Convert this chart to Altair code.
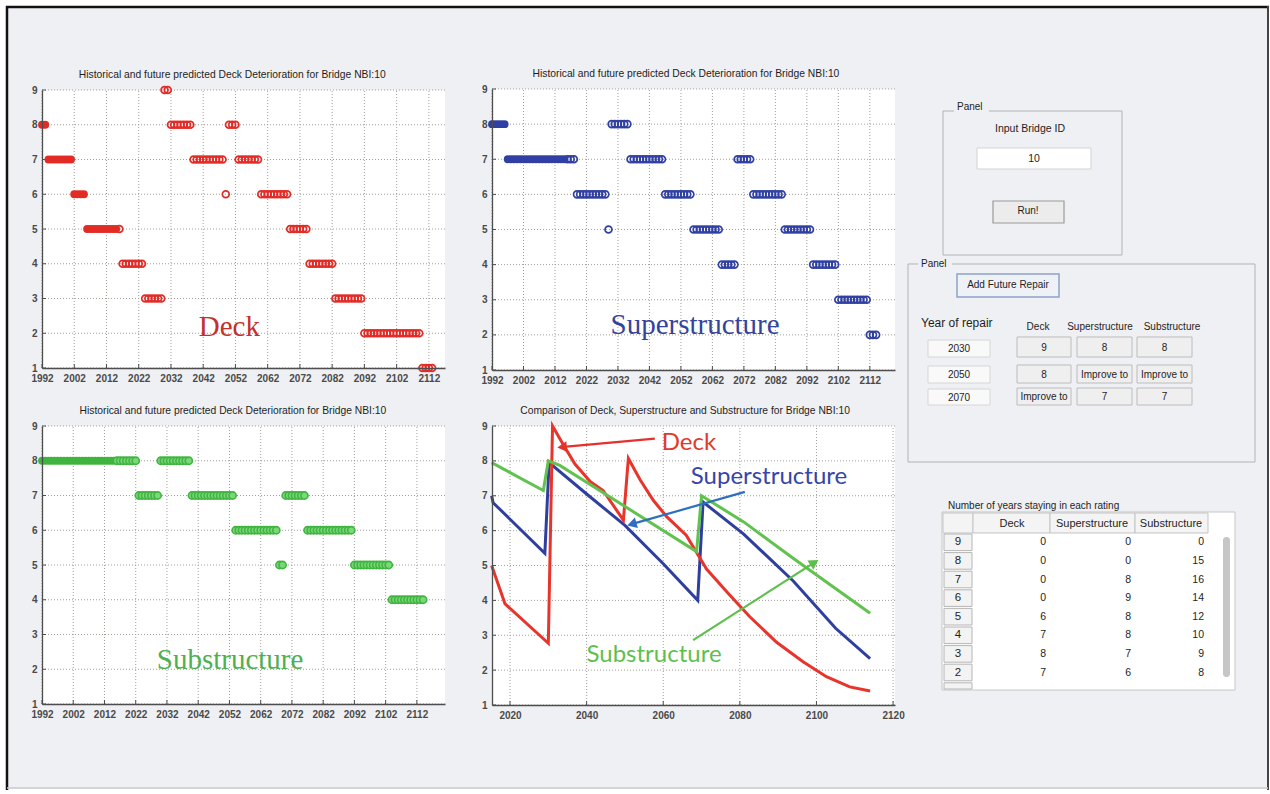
import math
import altair as alt
import pandas as pd

W, H = 1270, 794
FONT = "Liberation Sans"
SERIF = "Liberation Serif"
ANNO_FONT = "Lato"

# ------------------------------------------------------------------ data
YEAR_TICKS = [1992, 2002, 2012, 2022, 2032, 2042, 2052, 2062, 2072, 2082, 2092, 2102, 2112]
CMP_TICKS = [2020, 2040, 2060, 2080, 2100, 2120]
RATING_TICKS = [1, 2, 3, 4, 5, 6, 7, 8, 9]
HISTORY_LAST_YEAR = 2015

# condition rating runs (rating, first year, last year)
deck_run_rating = [8, 7, 6, 5, 4, 3, 9, 8, 7, 6, 8, 7, 6, 5, 4, 3, 2, 1]
deck_run_first = [1992, 1994, 2002, 2006, 2017, 2024, 2030, 2032, 2039, 2049, 2050, 2053, 2060, 2069, 2075, 2083, 2092, 2110]
deck_run_last = [1993, 2001, 2005, 2016, 2023, 2029, 2031, 2038, 2048, 2049, 2052, 2059, 2068, 2074, 2082, 2091, 2109, 2113]

sup_run_rating = [8, 7, 6, 5, 8, 7, 6, 5, 4, 7, 6, 5, 4, 3, 2]
sup_run_first = [1992, 1997, 2019, 2029, 2030, 2036, 2047, 2056, 2065, 2070, 2075, 2085, 2094, 2102, 2112]
sup_run_last = [1996, 2018, 2028, 2029, 2035, 2046, 2055, 2064, 2069, 2074, 2084, 2093, 2101, 2111, 2114]

sub_run_rating = [8, 7, 8, 7, 6, 5, 7, 6, 5, 4]
sub_run_first = [1992, 2023, 2030, 2040, 2054, 2068, 2070, 2077, 2092, 2104]
sub_run_last = [2022, 2029, 2039, 2053, 2067, 2069, 2076, 2091, 2103, 2114]

# comparison lines
cmp_deck_year = [2015.2, 2018.7, 2030.0, 2031.1, 2034.0, 2037.0, 2041.0, 2044.3, 2049.6, 2050.9, 2054.0,
                 2057.4, 2060.9, 2066.0, 2071.3, 2077.4, 2082.6, 2089.6, 2096.5, 2102.6, 2108.7, 2114.0]
cmp_deck_value = [5.0, 3.9, 2.77, 9.0, 8.45, 7.9, 7.4, 7.15, 6.3, 8.07, 7.45,
                  6.87, 6.4, 5.87, 4.9, 4.15, 3.53, 2.8, 2.24, 1.81, 1.52, 1.4]
cmp_sup_year = [2015.2, 2015.6, 2029.1, 2030.2, 2040.0, 2050.0, 2060.0, 2069.0, 2070.4, 2081.0, 2094.0, 2105.0, 2114.0]
cmp_sup_value = [7.0, 6.8, 5.35, 7.95, 7.05, 6.15, 5.05, 4.0, 6.82, 5.9, 4.55, 3.2, 2.33]
cmp_sub_year = [2015.2, 2028.7, 2030.0, 2033.0, 2046.0, 2068.7, 2070.0, 2081.0, 2094.0, 2114.0]
cmp_sub_value = [7.95, 7.15, 8.0, 7.87, 6.97, 5.4, 7.0, 6.25, 5.2, 3.63]

arrow_from_year = [2057.8, 2081.3, 2067.8]
arrow_from_value = [8.64, 7.11, 2.86]
arrow_to_year = [2034.0, 2052.2, 2099.1]
arrow_to_value = [8.40, 6.20, 5.06]

# GUI contents
repair_years = ["2030", "2050", "2070"]
repair_deck = ["9", "8", "Improve to"]
repair_super = ["8", "Improve to", "7"]
repair_sub = ["8", "Improve to", "7"]

table_rating = ["9", "8", "7", "6", "5", "4", "3", "2"]
table_deck = [0, 0, 0, 0, 6, 7, 8, 7]
table_super = [0, 0, 8, 9, 8, 8, 7, 6]
table_sub = [0, 15, 16, 14, 12, 10, 9, 8]

# ------------------------------------------------------------------ colours
RED = "#e32b26"
BLUE = "#3040a2"
GREEN = "#52c04f"
GRID = "#a39d98"
BG = "#eff0f3"
AXIS = "#4d4d4d"
TICK_PX = 4

# ------------------------------------------------------------------ panel layout (pixel ranges)
LAY = {
    "deck": dict(xr=(42, 445), yr=(368, 90), xdom=(1992, 2117)),
    "sup": dict(xr=(492, 895), yr=(370, 89), xdom=(1992, 2120)),
    "sub": dict(xr=(42, 445), yr=(704, 426), xdom=(1992, 2121)),
    "cmp": dict(xr=(492, 895), yr=(705, 426), xdom=(2015.3, 2120.5)),
}


def encoders(lay, xticks):
    xs = alt.Scale(domain=list(lay["xdom"]), range=list(lay["xr"]), nice=False, zero=False)
    ys = alt.Scale(domain=[1, 9], range=[lay["yr"][0], lay["yr"][1]], nice=False, zero=False)
    common = dict(grid=False, ticks=False, tickSize=0, domainColor=AXIS, domainWidth=1.3,
                  labelFont=FONT, labelFontSize=10, labelFontWeight="bold", labelColor="#4a4a4a",
                  labelFlush=False, labelOverlap=False, title=None, zindex=3, format="d")
    xa = alt.Axis(orient="bottom", offset=lay["yr"][0] - H, values=xticks, labelPadding=5, **common)
    ya = alt.Axis(orient="left", offset=-lay["xr"][0], values=RATING_TICKS, labelPadding=5, **common)

    def X(f="x"):
        return alt.X(f, type="quantitative", scale=xs, axis=xa)

    def Y(f="y"):
        return alt.Y(f, type="quantitative", scale=ys, axis=ya)

    return X, Y


def panel_base(lay, xticks, title, title_year):
    X, Y = encoders(lay, xticks)
    x0, x1 = lay["xdom"]
    ppy = (lay["xr"][1] - lay["xr"][0]) / (x1 - x0)
    ppv = (lay["yr"][0] - lay["yr"][1]) / 8.0
    bg = alt.Chart(pd.DataFrame({"x": [x0], "x2": [x1], "y": [1], "y2": [9]})).mark_rect(
        fill="white").encode(x=X("x"), x2=alt.X2("x2"), y=Y("y"), y2=alt.Y2("y2"))
    vg = alt.Chart(pd.DataFrame({"x": xticks, "y": [1] * len(xticks), "y2": [9] * len(xticks)})).mark_rule(
        color=GRID, strokeDash=[1, 2], strokeWidth=1).encode(x=X("x"), y=Y("y"), y2=alt.Y2("y2"))
    hg = alt.Chart(pd.DataFrame({"y": RATING_TICKS, "x": [x0] * 9, "x2": [x1] * 9})).mark_rule(
        color=GRID, strokeDash=[1, 2], strokeWidth=1).encode(y=Y("y"), x=X("x"), x2=alt.X2("x2"))
    # inward MATLAB-style ticks
    n = len(xticks)
    xt = alt.Chart(pd.DataFrame({"x": xticks, "y": [1] * n, "y2": [1 + TICK_PX / ppv] * n})).mark_rule(
        color=AXIS, strokeWidth=1).encode(x=X("x"), y=Y("y"), y2=alt.Y2("y2"))
    yt = alt.Chart(pd.DataFrame({"y": RATING_TICKS, "x": [x0] * 9, "x2": [x0 + TICK_PX / ppy] * 9})).mark_rule(
        color=AXIS, strokeWidth=1).encode(y=Y("y"), x=X("x"), x2=alt.X2("x2"))
    tt = alt.Chart(pd.DataFrame({"x": [title_year], "y": [9], "t": [title]})).mark_text(
        dy=-15, fontSize=10.3, font=FONT, color="#1e1e1e").encode(x=X("x"), y=Y("y"), text="t:N")
    return [bg, vg, hg, xt, yt, tt], X, Y


def expand(ratings, firsts, lasts):
    rows = []
    for r, a, b in zip(ratings, firsts, lasts):
        for yr in range(a, b + 1):
            rows.append({"x": yr, "y": r, "hist": yr <= HISTORY_LAST_YEAR})
    return pd.DataFrame(rows)


TITLE = "Historical and future predicted Deck Deterioration for Bridge NBI:10"


def scatter_panel(key, runs, color, future_fill, label, label_pos, label_color, title_year):
    layers, X, Y = panel_base(LAY[key], YEAR_TICKS, TITLE, title_year)
    df = expand(*runs)
    hist = df[df["hist"]]
    fut = df[~df["hist"]]
    if future_fill:
        fl = alt.Chart(fut).mark_point(shape="circle", size=52, filled=True, fill=future_fill,
                                       stroke=color, strokeWidth=1.6, opacity=1).encode(x=X("x"), y=Y("y"))
    else:
        fl = alt.Chart(fut).mark_point(shape="circle", size=48, filled=False, color=color,
                                       strokeWidth=1.7, opacity=1).encode(x=X("x"), y=Y("y"))
    hl = alt.Chart(hist).mark_point(shape="circle", size=62, filled=True, color=color,
                                    opacity=1).encode(x=X("x"), y=Y("y"))
    lbl = alt.Chart(pd.DataFrame({"x": [label_pos[0]], "y": [label_pos[1]], "t": [label]})).mark_text(
        font=SERIF, fontSize=29, color=label_color, baseline="middle").encode(x=X("x"), y=Y("y"), text="t:N")
    return alt.layer(*layers, hl, fl, lbl)


p_deck = scatter_panel("deck", (deck_run_rating, deck_run_first, deck_run_last), RED, None,
                       "Deck", (2050.1, 2.18), "#c4302b", 2051)
p_sup = scatter_panel("sup", (sup_run_rating, sup_run_first, sup_run_last), BLUE, None,
                      "Superstructure", (2056.5, 2.28), "#34449a", 2053.6)
p_sub = scatter_panel("sub", (sub_run_rating, sub_run_first, sub_run_last), "#3fb43f", "#7ad77a",
                      "Substructure", (2052.2, 2.27), "#4fb04f", 2053.1)

# comparison panel
layers, X, Y = panel_base(LAY["cmp"], CMP_TICKS,
                          "Comparison of Deck, Superstructure and Substructure for Bridge NBI:10", 2065.7)
LRED, LBLUE, LGREEN = "#e8342b", "#2f3f9f", "#62c24f"
lines = []
for yrs, vals, col in [(cmp_sup_year, cmp_sup_value, LBLUE), (cmp_deck_year, cmp_deck_value, LRED),
                       (cmp_sub_year, cmp_sub_value, LGREEN)]:
    lines.append(alt.Chart(pd.DataFrame({"x": yrs, "y": vals, "o": list(range(len(yrs)))})).mark_line(
        color=col, strokeWidth=3).encode(x=X("x"), y=Y("y"), order="o:Q"))

cl = LAY["cmp"]
ppy = (cl["xr"][1] - cl["xr"][0]) / (cl["xdom"][1] - cl["xdom"][0])
ppv = (cl["yr"][0] - cl["yr"][1]) / 8.0
arrows = []
for fy, fv, ty, tv, col in zip(arrow_from_year, arrow_from_value, arrow_to_year, arrow_to_value,
                                ["#e4322a", "#2f6fc0", "#5cc04a"]):
    dx = (ty - fy) * ppy
    dy = -(tv - fv) * ppv
    ang = math.degrees(math.atan2(dx, -dy)) % 360
    arrows.append(alt.Chart(pd.DataFrame({"x": [fy], "x2": [ty], "y": [fv], "y2": [tv]})).mark_rule(
        color=col, strokeWidth=2.2).encode(x=X("x"), x2=alt.X2("x2"), y=Y("y"), y2=alt.Y2("y2")))
    arrows.append(alt.Chart(pd.DataFrame({"x": [ty], "y": [tv]})).mark_point(
        shape="triangle", filled=True, size=120, angle=ang, color=col, opacity=1).encode(x=X("x"), y=Y("y")))

anno = []
for txt, xx, yy, col in [("Deck", 2066.7, 8.51, "#e0392e"), ("Superstructure", 2087.6, 7.54, "#3546a8"),
                         ("Substructure", 2057.6, 2.44, "#5fbf4e")]:
    anno.append(alt.Chart(pd.DataFrame({"x": [xx], "y": [yy], "t": [txt]})).mark_text(
        font=ANNO_FONT, fontSize=24, color=col, baseline="middle").encode(x=X("x"), y=Y("y"), text="t:N"))

p_cmp = alt.layer(*layers, *lines, *arrows, *anno)

# ------------------------------------------------------------------ GUI (screen pixel scales)
UXS = alt.Scale(domain=[0, W], range=[0, W], nice=False, zero=False)
UYS = alt.Scale(domain=[0, H], range=[0, H], nice=False, zero=False)


def UX(f):
    return alt.X(f, type="quantitative", scale=UXS, axis=None)


def UY(f):
    return alt.Y(f, type="quantitative", scale=UYS, axis=None)


def rects(rows, **kw):
    df = pd.DataFrame(rows, columns=["x", "x2", "y", "y2"])
    return alt.Chart(df).mark_rect(**kw).encode(x=UX("x"), x2=alt.X2("x2"), y=UY("y"), y2=alt.Y2("y2"))


def rules(rows, **kw):
    df = pd.DataFrame(rows, columns=["x", "x2", "y", "y2"])
    return alt.Chart(df).mark_rule(**kw).encode(x=UX("x"), x2=alt.X2("x2"), y=UY("y"), y2=alt.Y2("y2"))


def texts(rows, **kw):
    df = pd.DataFrame(rows, columns=["x", "y", "t"])
    kw.setdefault("font", FONT)
    kw.setdefault("color", "#1e1e1e")
    kw.setdefault("baseline", "middle")
    return alt.Chart(df).mark_text(**kw).encode(x=UX("x"), y=UY("y"), text="t:N")


ui = []
ui.append(rects([(7, 1268, 7, 789)], fill=BG))
ui.append(rules([(6, 1269, 7, 7), (7, 7, 6, 790)], color="#111111", strokeWidth=2.5))
ui.append(rules([(1268, 1268, 6, 790)], color="#444444", strokeWidth=2))
ui.append(rules([(7, 1268, 788, 788)], color="#c9cbcf", strokeWidth=1.5))

# group boxes
ui.append(rects([(943, 1122, 111, 255), (908, 1255, 264, 462)], fill=BG, stroke="#b3b3b3", strokeWidth=1))
ui.append(rects([(954, 989, 102, 116), (918, 952, 258, 270)], fill=BG))
ui.append(texts([(957, 107, "Panel"), (921, 263.5, "Panel")], align="left", fontSize=10))
ui.append(texts([(1030, 129, "Input Bridge ID")], align="center", fontSize=10.5))
ui.append(rects([(977, 1091, 148, 169)], fill="white", stroke="#d3d3d3", strokeWidth=1))
ui.append(texts([(1034, 158.5, "10")], align="center", fontSize=10.5))
ui.append(rects([(993, 1064, 201, 223)], fill="#ececec", stroke="#9a9a9a", strokeWidth=1.2))
ui.append(texts([(1028, 211, "Run!")], align="center", fontSize=10))
ui.append(rects([(957, 1059, 274, 297)], fill="#eef1f6", stroke="#8ea3c6", strokeWidth=1.5))
ui.append(texts([(1008, 284.5, "Add Future Repair")], align="center", fontSize=10))
ui.append(texts([(921, 323, "Year of repair")], align="left", fontSize=12))
ui.append(texts([(1038, 327, "Deck"), (1100, 327, "Superstructure"), (1172, 327, "Substructure")],
                align="center", fontSize=10))

year_rows = [(340, 357), (366, 383), (389, 405)]
cell_rows = [(337, 357), (365, 383), (388, 405)]
cell_cols = [(1017, 1071), (1077, 1132), (1137, 1192)]
ui.append(rects([(928, 990, a, b) for a, b in year_rows], fill="#f9f9fa", stroke="#d6d6d6", strokeWidth=1))
ui.append(texts([(959, (a + b) / 2 + 0.5, t) for (a, b), t in zip(year_rows, repair_years)],
                align="center", fontSize=10))
ui.append(rects([(c0, c1, a, b) for (a, b) in cell_rows for (c0, c1) in cell_cols],
                fill="#efefef", stroke="#bcbcbc", strokeWidth=1))
cell_txt = []
for ri, (a, b) in enumerate(cell_rows):
    for (c0, c1), col in zip(cell_cols, [repair_deck, repair_super, repair_sub]):
        cell_txt.append(((c0 + c1) / 2, (a + b) / 2 + 0.5, col[ri]))
ui.append(texts(cell_txt, align="center", fontSize=10))

# table
ui.append(texts([(948, 506, "Number of years staying in each rating")], align="left", fontSize=10))
ui.append(rects([(942, 1235, 512, 690)], fill="white", stroke="#c6c6c6", strokeWidth=1))
ui.append(rects([(943, 973, 513, 533), (973, 1050, 513, 533), (1050, 1135, 513, 533), (1135, 1208, 513, 533)],
                fill="#f4f4f4", stroke="#c4c4c4", strokeWidth=1))
ui.append(texts([(1012, 524, "Deck"), (1092, 524, "Superstructure"), (1171, 524, "Substructure")],
                align="center", fontSize=11))
ROW_TOP, ROW_H = 533, 18.6
ui.append(rects([(944, 972, ROW_TOP + ROW_H * i + 1, min(ROW_TOP + ROW_H * (i + 1) - 1, 689)) for i in range(9)],
                fill="#f3f3f3", stroke="#b6b6b6", strokeWidth=1))
ui.append(texts([(958, ROW_TOP + ROW_H * (i + 0.5), r) for i, r in enumerate(table_rating)],
                align="center", fontSize=11.5))
vals = []
for i in range(len(table_rating)):
    y = ROW_TOP + ROW_H * (i + 0.5)
    vals += [(1046, y, str(table_deck[i])), (1131, y, str(table_super[i])), (1204, y, str(table_sub[i]))]
ui.append(texts(vals, align="right", fontSize=10.5))
ui.append(rects([(1223, 1230, 537, 677)], fill="#c6c6c6", cornerRadius=3))

ui_layer = alt.layer(*ui)

chart = alt.layer(ui_layer, p_deck, p_sup, p_sub, p_cmp).resolve_scale(
    x="independent", y="independent").resolve_axis(x="independent", y="independent").properties(
    width=W, height=H, autosize=alt.AutoSizeParams(type="none"), padding=0, background="white"
).configure_view(strokeWidth=0)

chart.save("out.html", embed_options={"renderer": "svg", "actions": False})
